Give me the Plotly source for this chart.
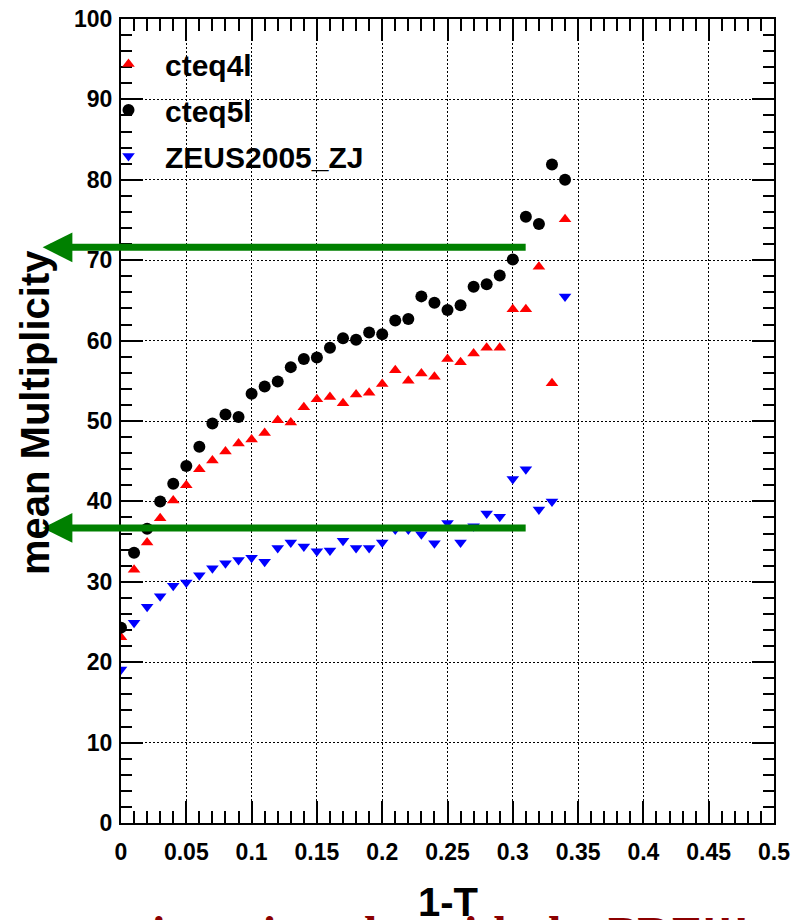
import plotly.graph_objects as go

# 1-T bin positions
x_vals = [0.00, 0.01, 0.02, 0.03, 0.04, 0.05, 0.06, 0.07, 0.08, 0.09,
          0.10, 0.11, 0.12, 0.13, 0.14, 0.15, 0.16, 0.17, 0.18, 0.19,
          0.20, 0.21, 0.22, 0.23, 0.24, 0.25, 0.26, 0.27, 0.28, 0.29,
          0.30, 0.31, 0.32, 0.33, 0.34]

cteq4l = [23.1, 31.5, 34.9, 37.9, 40.1, 42.0, 44.0, 45.1, 46.2, 47.2,
          47.7, 48.5, 50.1, 49.8, 51.7, 52.7, 53.0, 52.2, 53.3, 53.5,
          54.6, 56.3, 55.0, 55.9, 55.5, 57.7, 57.3, 58.4, 59.1, 59.1,
          63.9, 63.9, 69.2, 54.7, 75.1]

cteq5l = [24.3, 33.6, 36.6, 40.0, 42.2, 44.4, 46.8, 49.7, 50.8, 50.5,
          53.4, 54.3, 54.9, 56.7, 57.7, 57.9, 59.1, 60.3, 60.1, 61.0,
          60.8, 62.5, 62.7, 65.5, 64.7, 63.8, 64.4, 66.7, 67.0, 68.1,
          70.1, 75.4, 74.5, 81.9, 80.0]

zeus2005 = [19.1, 24.9, 26.9, 28.2, 29.5, 29.9, 30.8, 31.7, 32.3, 32.7,
            33.0, 32.5, 34.2, 34.9, 34.4, 33.8, 33.9, 35.1, 34.2, 34.2,
            34.9, 36.5, 36.5, 35.9, 34.8, 37.3, 34.9, 36.9, 38.5, 38.1,
            42.8, 44.0, 39.0, 40.0, 65.5]

series_names = ["cteq4l", "cteq5l", "ZEUS2005_ZJ"]

x_ticks = [0, 0.05, 0.1, 0.15, 0.2, 0.25, 0.3, 0.35, 0.4, 0.45, 0.5]
x_tick_text = ["0", "0.05", "0.1", "0.15", "0.2", "0.25", "0.3", "0.35", "0.4", "0.45", "0.5"]
y_ticks = [0, 10, 20, 30, 40, 50, 60, 70, 80, 90, 100]

# green arrow levels (mean multiplicity) and extent
arrow_levels = [71.6, 36.7]
arrow_tail_x = 0.311
arrow_tip_x = -0.060

FONT = "Liberation Sans, Arial, Helvetica, sans-serif"

fig = go.Figure()
fig.add_trace(go.Scatter(x=x_vals, y=cteq4l, mode="markers", name=series_names[0],
                         legendgroup="a",
                         marker=dict(symbol="triangle-up", size=11, color="#ff0000", line=dict(width=0))))
fig.add_trace(go.Scatter(x=x_vals, y=cteq5l, mode="markers", name=series_names[1],
                         legendgroup="b",
                         marker=dict(symbol="circle", size=12, color="#000000", line=dict(width=0))))
fig.add_trace(go.Scatter(x=x_vals, y=zeus2005, mode="markers", name=series_names[2],
                         legendgroup="c",
                         marker=dict(symbol="triangle-down", size=11, color="#0000ff", line=dict(width=0))))

axis_common = dict(
    showline=True, linecolor="black", linewidth=2, mirror="allticks",
    ticks="inside", tickcolor="black", tickwidth=1.5, ticklen=22,
    showgrid=True, gridcolor="#000000", gridwidth=1, griddash="1.5px,2.5px",
    zeroline=False,
    tickfont=dict(family=FONT, size=23, color="black", weight="bold"),
)

fig.update_xaxes(range=[0, 0.5], tickvals=x_ticks, ticktext=x_tick_text,
                 minor=dict(ticks="inside", dtick=0.01, ticklen=12, tickwidth=1.5,
                            tickcolor="black", showgrid=False),
                 ticklabelstandoff=7, **axis_common)
fig.update_yaxes(range=[0, 100], tickvals=y_ticks,
                 minor=dict(ticks="inside", dtick=2, ticklen=11, tickwidth=1.5,
                            tickcolor="black", showgrid=False),
                 ticklabelstandoff=2, **axis_common)

annotations = []
for lvl in arrow_levels:
    annotations.append(dict(
        x=arrow_tip_x, y=lvl, ax=arrow_tail_x, ay=lvl,
        xref="x", yref="y", axref="x", ayref="y",
        text="", showarrow=True, arrowhead=2, arrowsize=0.85, arrowwidth=7,
        arrowcolor="#008000", standoff=0, startstandoff=0,
    ))

# y-axis title
annotations.append(dict(
    text="mean Multiplicity", textangle=-90,
    xref="paper", yref="paper", x=(35 - 121) / 653, y=(823 - 413) / 804,
    xanchor="center", yanchor="middle", showarrow=False,
    font=dict(family=FONT, size=40, color="black", weight="bold"),
))
# x-axis title
annotations.append(dict(
    text="1-T",
    xref="paper", yref="paper", x=(448 - 121) / 653, y=(823 - 902) / 804,
    xanchor="center", yanchor="middle", showarrow=False,
    font=dict(family=FONT, size=40, color="black", weight="bold"),
))
# cut-off slide caption
annotations.append(dict(
    text="it varies a lot with the PDF!!!",
    xref="paper", yref="paper", x=(150 - 121) / 653, y=(823 - 905) / 804,
    xanchor="left", yanchor="top", showarrow=False,
    font=dict(family="Liberation Serif, Times New Roman, serif", size=48,
              color="#8b0000", weight="bold"),
))

fig.update_layout(
    width=791, height=920,
    margin=dict(l=121, r=17, t=19, b=97, autoexpand=False),
    paper_bgcolor="white", plot_bgcolor="white",
    showlegend=True,
    legend=dict(x=(92 - 121) / 653, y=(823 - 38) / 804, xanchor="left", yanchor="top",
                bgcolor="rgba(0,0,0,0)", borderwidth=0, itemwidth=63,
                font=dict(family=FONT, size=30, color="black", weight="bold"),
                traceorder="grouped", tracegroupgap=4),
    annotations=annotations,
)

fig.write_html("out.html",
               config={"displayModeBar": False},
               post_script="document.body.style.margin='0';document.body.style.overflow='hidden';")
